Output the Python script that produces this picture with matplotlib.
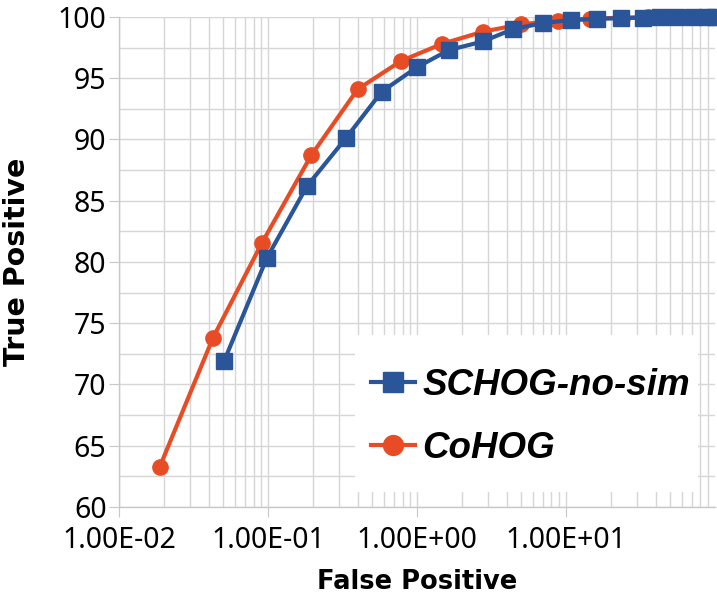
import matplotlib
matplotlib.use("Agg")
import matplotlib.pyplot as plt
from matplotlib.patches import Rectangle
from matplotlib.ticker import LogLocator, NullFormatter

# Data
schog_fp = [0.0507, 0.098, 0.183, 0.333, 0.58, 1.0, 1.64, 2.77, 4.4, 7.0, 10.8, 16.1, 23.4, 32.9, 42.8, 55.0, 71.0, 88.0, 100.0]
schog_tp = [71.9, 80.3, 86.2, 90.1, 93.9, 95.9, 97.3, 98.0, 99.0, 99.5, 99.75, 99.85, 99.9, 99.95, 99.97, 99.98, 100.0, 100.0, 100.0]
cohog_fp = [0.0188, 0.0427, 0.091, 0.195, 0.40, 0.78, 1.47, 2.77, 4.99, 8.8, 14.5, 23.8, 35.5, 52.0, 75.0, 95.0]
cohog_tp = [63.3, 73.8, 81.55, 88.7, 94.1, 96.4, 97.8, 98.8, 99.4, 99.7, 99.85, 99.95, 99.97, 100.0, 100.0, 100.0]
xtick_vals = [0.01, 0.1, 1, 10]
xtick_labels = ["1.00E-02", "1.00E-01", "1.00E+00", "1.00E+01"]
ytick_vals = [60, 65, 70, 75, 80, 85, 90, 95, 100]

blue = "#2a5599"
orange = "#e84c25"
grid_c = "#d6d6d6"

fig = plt.figure(figsize=(7.17, 6.0), dpi=100)
ax = fig.add_axes([0.166, 0.155, 0.831, 0.8167])

ax.plot(cohog_fp, cohog_tp, color=orange, lw=3, marker="o", ms=11, label="CoHOG", zorder=4, clip_on=False)
ax.plot(schog_fp, schog_tp, color=blue, lw=3, marker="s", ms=11, label="SCHOG-no-sim", zorder=5, clip_on=False)

ax.set_xscale("log")
ax.set_xlim(0.01, 100)
ax.set_ylim(60, 100)

ax.set_xticks(xtick_vals)
ax.set_xticklabels(xtick_labels)
ax.xaxis.set_minor_locator(LogLocator(base=10, subs=range(2, 10)))
ax.xaxis.set_minor_formatter(NullFormatter())
ax.set_yticks(ytick_vals)
ax.set_yticks([62.5, 67.5, 72.5, 77.5, 82.5, 87.5, 92.5, 97.5], minor=True)

ax.grid(True, which="both", color=grid_c, lw=1)
ax.set_axisbelow(True)
for s in ["top", "right"]:
    ax.spines[s].set_visible(False)
for s in ["left", "bottom"]:
    ax.spines[s].set_color("#c8c8c8")
    ax.spines[s].set_linewidth(1)

tick_font = "Noto Sans"
ax.tick_params(axis="y", which="major", length=7, color="#c8c8c8", labelsize=20.5, pad=2)
ax.tick_params(axis="x", which="major", length=7, color="#c8c8c8", labelsize=20.5, pad=7)
ax.tick_params(axis="both", which="minor", length=0)
for lab in ax.get_xticklabels() + ax.get_yticklabels():
    lab.set_fontfamily(tick_font)

ax.set_xlabel("False Positive", fontsize=18.5, fontweight="bold", family="DejaVu Sans", labelpad=10)
ax.set_ylabel("True Positive", fontsize=20.5, fontweight="bold", family="DejaVu Sans", labelpad=19)

ax.add_patch(Rectangle((0.396, 0.031), 0.575, 0.32, transform=ax.transAxes,
                       facecolor="white", edgecolor="none", zorder=6))
h, l = ax.get_legend_handles_labels()
leg = ax.legend(h[::-1], l[::-1], loc="center left", bbox_to_anchor=(0.367, 0.184),
                frameon=False, prop={"family": "Liberation Sans", "weight": "bold", "style": "italic", "size": 26.5},
                handlelength=1.2, handletextpad=0.2, labelspacing=0.75, markerscale=1.3)
leg.set_zorder(7)

fig.savefig("out.png", dpi=100)
